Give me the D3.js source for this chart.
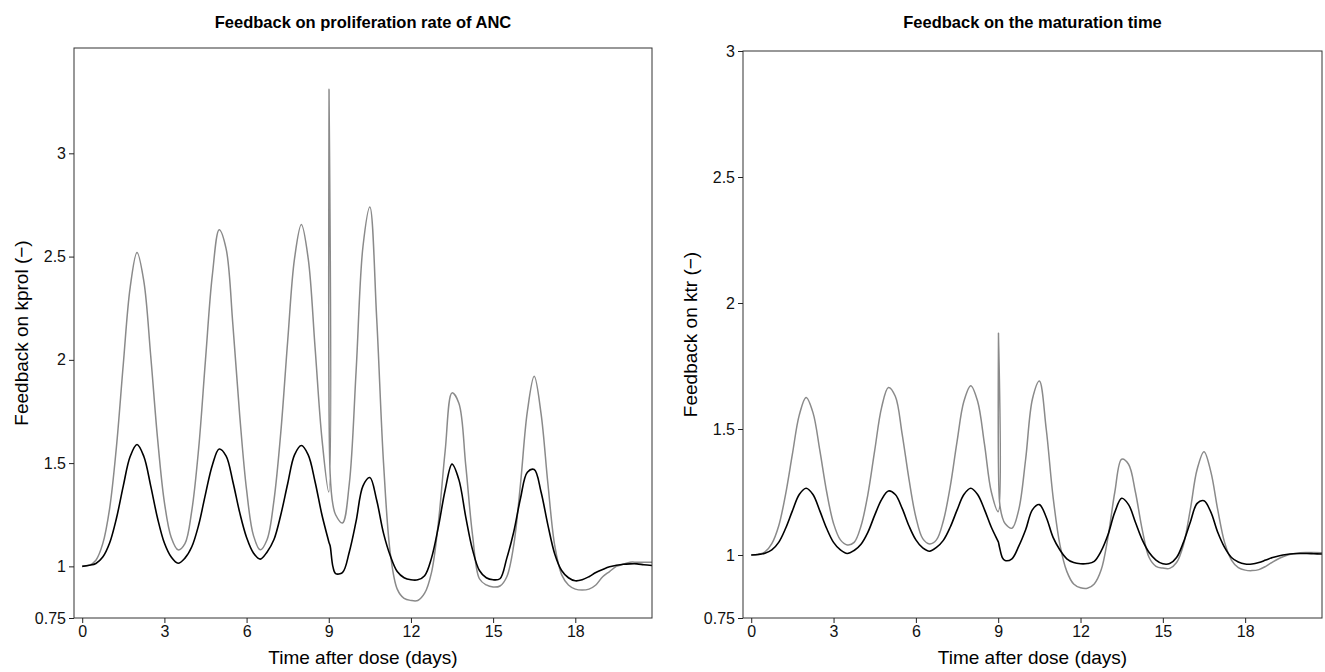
<!DOCTYPE html>
<html>
<head>
<meta charset="utf-8">
<script src="https://cdn.jsdelivr.net/npm/d3@7"></script>
<style>
  body { margin: 0; background: #fff; }
  svg { display: block; font-family: "Liberation Sans", Arial, Helvetica, sans-serif; }
</style>
</head>
<body>
<svg id="chart" width="1325" height="672"></svg>
<script>
// time grid (days), with extra samples around the dose at day 9
var days = [0, 0.25, 0.5, 0.75, 1, 1.25, 1.5, 1.75, 2, 2.25, 2.5, 2.75, 3, 3.25, 3.5, 3.75,
  4, 4.25, 4.5, 4.75, 5, 5.25, 5.5, 5.75, 6, 6.25, 6.5, 6.75, 7, 7.25, 7.5, 7.75,
  8, 8.25, 8.5, 8.75, 9, 9.01, 9.05, 9.15, 9.25, 9.5, 9.75,
  10, 10.25, 10.5, 10.75, 11, 11.25, 11.5, 11.75, 12, 12.25, 12.5, 12.75,
  13, 13.25, 13.5, 13.75, 14, 14.25, 14.5, 14.75, 15, 15.25, 15.5, 15.75,
  16, 16.25, 16.5, 16.75, 17, 17.25, 17.5, 17.75, 18, 18.25, 18.5, 18.75,
  19, 19.25, 19.5, 19.75, 20, 20.25, 20.5, 20.8];

// feedback on kprol
var kprolGrey = [1.00, 1.005, 1.03, 1.11, 1.28, 1.58, 1.98, 2.35, 2.52, 2.38, 2.02, 1.62, 1.31, 1.14, 1.08, 1.11,
  1.27, 1.57, 2.00, 2.41, 2.63, 2.54, 2.17, 1.73, 1.37, 1.15, 1.08, 1.13, 1.32, 1.65, 2.09, 2.49,
  2.655, 2.49, 2.06, 1.62, 1.36, 3.31, 1.45, 1.30, 1.25, 1.21, 1.40,
  1.95, 2.55, 2.74, 2.20, 1.50, 1.06, 0.89, 0.845, 0.835, 0.835, 0.87, 0.97,
  1.21, 1.56, 1.84, 1.79, 1.49, 1.15, 0.94, 0.91, 0.90, 0.905, 0.95, 1.10,
  1.40, 1.75, 1.92, 1.74, 1.40, 1.10, 0.96, 0.91, 0.89, 0.885, 0.89, 0.91,
  0.95, 0.975, 1.00, 1.01, 1.02, 1.02, 1.02, 1.02];
var kprolBlack = [1.00, 1.005, 1.014, 1.045, 1.113, 1.233, 1.39, 1.532, 1.59, 1.532, 1.39, 1.233, 1.113, 1.045, 1.015, 1.04,
  1.095, 1.20, 1.35, 1.49, 1.568, 1.535, 1.41, 1.26, 1.14, 1.065, 1.035, 1.07, 1.13, 1.25, 1.40, 1.54,
  1.585, 1.54, 1.41, 1.25, 1.12, 1.115, 1.10, 1.00, 0.965, 0.97, 1.07,
  1.22, 1.39, 1.43, 1.32, 1.16, 1.05, 0.975, 0.945, 0.935, 0.935, 0.955, 1.04,
  1.19, 1.37, 1.495, 1.42, 1.24, 1.08, 0.98, 0.945, 0.935, 0.94, 1.04, 1.165,
  1.33, 1.456, 1.469, 1.36, 1.20, 1.06, 0.98, 0.945, 0.93, 0.935, 0.95, 0.97,
  0.985, 0.998, 1.005, 1.01, 1.012, 1.012, 1.008, 1.004];

// feedback on ktr
var ktrGrey = [1.00, 1.002, 1.012, 1.045, 1.115, 1.24, 1.40, 1.555, 1.625, 1.565, 1.415, 1.25, 1.125, 1.06, 1.04, 1.05,
  1.115, 1.24, 1.415, 1.585, 1.665, 1.63, 1.48, 1.30, 1.15, 1.065, 1.044, 1.06, 1.135, 1.27, 1.45, 1.61,
  1.672, 1.61, 1.44, 1.25, 1.172, 1.88, 1.21, 1.15, 1.125, 1.106, 1.18,
  1.38, 1.62, 1.69, 1.50, 1.23, 1.04, 0.935, 0.885, 0.87, 0.868, 0.885, 0.94,
  1.07, 1.25, 1.38, 1.36, 1.25, 1.10, 0.99, 0.955, 0.948, 0.947, 0.97, 1.04,
  1.18, 1.34, 1.41, 1.33, 1.18, 1.05, 0.98, 0.95, 0.94, 0.938, 0.942, 0.955,
  0.972, 0.987, 0.998, 1.005, 1.009, 1.01, 1.01, 1.009];
var ktrBlack = [1.00, 1.002, 1.007, 1.02, 1.05, 1.105, 1.175, 1.24, 1.265, 1.24, 1.175, 1.105, 1.05, 1.02, 1.006, 1.018,
  1.043, 1.09, 1.158, 1.22, 1.254, 1.24, 1.185, 1.115, 1.06, 1.028, 1.015, 1.03, 1.058, 1.11, 1.178, 1.24,
  1.265, 1.24, 1.18, 1.11, 1.053, 1.05, 1.03, 0.99, 0.978, 0.985, 1.035,
  1.10, 1.18, 1.20, 1.15, 1.07, 1.02, 0.985, 0.97, 0.965, 0.966, 0.975, 1.015,
  1.08, 1.17, 1.225, 1.20, 1.13, 1.06, 1.01, 0.98, 0.965, 0.966, 0.99, 1.05,
  1.13, 1.205, 1.215, 1.17, 1.09, 1.03, 0.99, 0.972, 0.964, 0.964, 0.97, 0.98,
  0.99, 0.997, 1.002, 1.005, 1.006, 1.006, 1.005, 1.004];

var xTicks = [0, 3, 6, 9, 12, 15, 18];
var yTicks = [0.75, 1, 1.5, 2, 2.5, 3];

var svg = d3.select("#chart");
svg.append("rect").attr("width", 1325).attr("height", 672).attr("fill", "#fff");

drawPanel({
  left: 74, right: 652, top: 48, bottom: 618,
  yMax: 3.51,
  title: "Feedback on proliferation rate of ANC",
  yLabel: "Feedback on kprol (\u2212)",
  yLabelX: 21,
  grey: kprolGrey, black: kprolBlack
});

drawPanel({
  left: 743, right: 1322, top: 51, bottom: 618,
  yMax: 3,
  title: "Feedback on the maturation time",
  yLabel: "Feedback on ktr (\u2212)",
  yLabelX: 690,
  grey: ktrGrey, black: ktrBlack
});

function drawPanel(p) {
  var x = d3.scaleLinear().domain([-0.3, 20.8]).range([p.left, p.right]);
  var y = d3.scaleLinear().domain([0.75, p.yMax]).range([p.bottom, p.top]);
  var cx = (p.left + p.right) / 2;

  var g = svg.append("g");

  var clipId = "clip" + p.left;
  g.append("clipPath").attr("id", clipId)
    .append("rect")
    .attr("x", p.left).attr("y", p.top)
    .attr("width", p.right - p.left).attr("height", p.bottom - p.top);

  var line = d3.line()
    .x(function(d, i) { return x(days[i]); })
    .y(function(d) { return y(d); })
    .curve(d3.curveCatmullRom.alpha(0.5));

  var plot = g.append("g").attr("clip-path", "url(#" + clipId + ")");
  plot.append("path")
    .datum(p.grey)
    .attr("fill", "none")
    .attr("stroke", "#8a8a8a")
    .attr("stroke-width", 1.5)
    .attr("d", line);
  plot.append("path")
    .datum(p.black)
    .attr("fill", "none")
    .attr("stroke", "#000")
    .attr("stroke-width", 1.6)
    .attr("d", line);

  // frame
  g.append("rect")
    .attr("x", p.left).attr("y", p.top)
    .attr("width", p.right - p.left).attr("height", p.bottom - p.top)
    .attr("fill", "none")
    .attr("stroke", "#333")
    .attr("stroke-width", 1);

  var xAxis = d3.axisBottom(x)
    .tickValues(xTicks)
    .tickSize(5)
    .tickPadding(3)
    .tickFormat(function(d) { return String(d); });
  var yAxis = d3.axisLeft(y)
    .tickValues(yTicks.filter(function(d) { return d <= p.yMax; }))
    .tickSize(5)
    .tickPadding(3)
    .tickFormat(function(d) { return String(d); });

  var gx = g.append("g")
    .attr("transform", "translate(0," + p.bottom + ")")
    .call(xAxis);
  var gy = g.append("g")
    .attr("transform", "translate(" + p.left + ",0)")
    .call(yAxis);

  [gx, gy].forEach(function(a) {
    a.select(".domain").remove();
    a.selectAll(".tick line").attr("stroke", "#222");
    a.selectAll(".tick text")
      .attr("fill", "#111")
      .style("font-size", "16px")
      .style("font-family", "'Liberation Sans', Arial, sans-serif");
  });

  g.append("text")
    .attr("x", cx).attr("y", 28)
    .attr("text-anchor", "middle")
    .style("font-size", "16.5px")
    .style("font-weight", "bold")
    .text(p.title);

  g.append("text")
    .attr("x", cx).attr("y", 664)
    .attr("text-anchor", "middle")
    .style("font-size", "19px")
    .text("Time after dose (days)");

  g.append("text")
    .attr("transform", "translate(" + p.yLabelX + "," + ((p.top + p.bottom) / 2) + ") rotate(-90)")
    .attr("text-anchor", "middle")
    .attr("dy", "0.35em")
    .style("font-size", "19px")
    .text(p.yLabel);
}
</script>
</body>
</html>
